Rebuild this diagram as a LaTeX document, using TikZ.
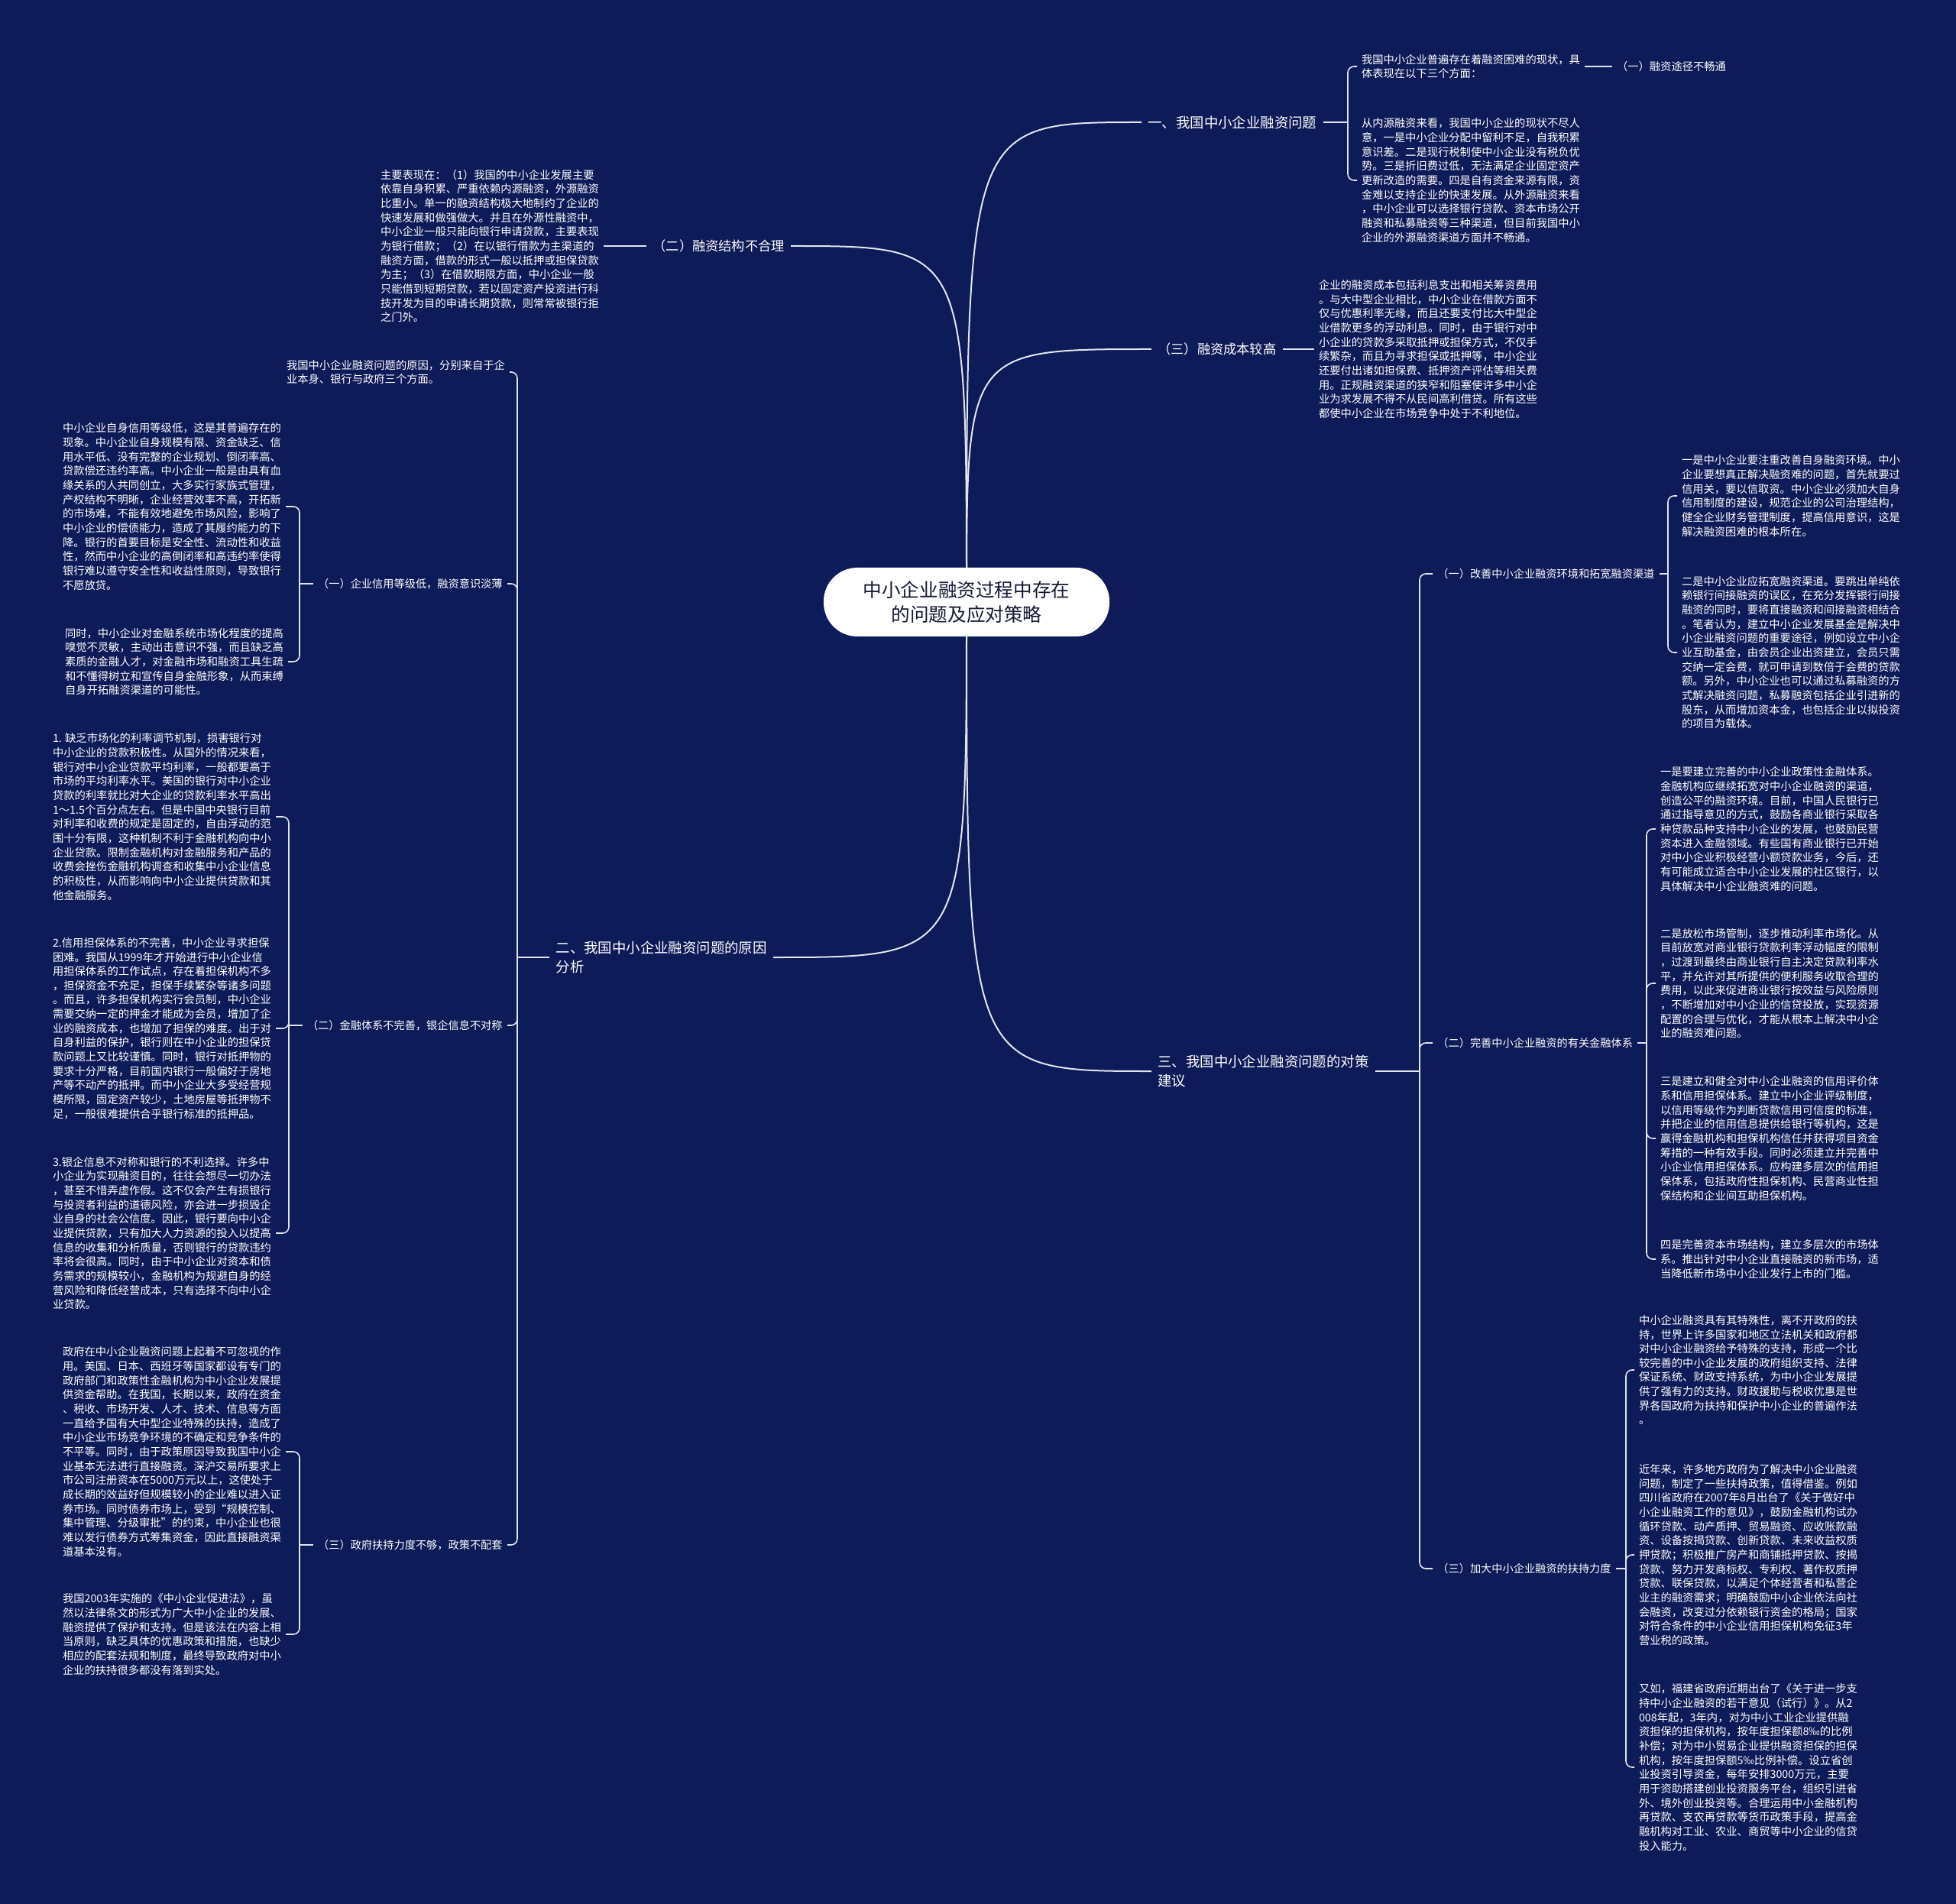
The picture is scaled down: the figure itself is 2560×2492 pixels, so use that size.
\documentclass[tikz,border=0pt]{standalone}
\usepackage{fontspec}
\setmainfont{Noto Sans CJK SC}
\definecolor{bgc}{RGB}{13,27,89}
\definecolor{linec}{RGB}{225,228,238}
\definecolor{ctext}{RGB}{20,24,50}
\tikzset{
  body/.style={text=white, font=\fontsize{7.15pt}{9.33pt}\selectfont, align=left, inner sep=0pt, outer xsep=3pt},
  lab/.style={text=white, font=\fontsize{9.2pt}{12.4pt}\selectfont, align=left, inner xsep=4pt, inner ysep=1pt},
  labs/.style={text=white, font=\fontsize{8.6pt}{11pt}\selectfont, align=left, inner xsep=4pt, inner ysep=1pt},
  sublab/.style={text=white, font=\fontsize{7.1pt}{9pt}\selectfont, inner xsep=3pt, inner ysep=1pt},
  conn/.style={draw=linec, line width=1pt},
  br/.style={draw=linec, line width=0.8pt, rounded corners=4pt},
  centerbox/.style={fill=white, rounded corners=22pt, minimum width=187pt, minimum height=45pt, text=ctext, align=center, font=\fontsize{12.3pt}{16pt}\selectfont}
}
\begin{document}
\begin{tikzpicture}[x=0.5pt,y=-0.5pt]
\fill[bgc] (0,0) rectangle (2560,2492);
\useasboundingbox (0,0) rectangle (2560,2492);

% ---------- main labels ----------
\node[lab, anchor=west] (N1) at (1494,160) {一、我国中小企业融资问题};
\node[labs, anchor=west] (N2) at (1507,457) {（三）融资成本较高};
\node[labs, anchor=east] (N3) at (1035,322) {（二）融资结构不合理};
\node[lab, anchor=east] (N4) at (1012,1253) {二、我国中小企业融资问题的原因\\分析};
\node[lab, anchor=west] (N5) at (1507,1402) {三、我国中小企业融资问题的对策\\建议};

% ---------- branch 一 ----------
\node[body, anchor=west] (A1) at (1776,87) {我国中小企业普遍存在着融资困难的现状，具\\体表现在以下三个方面：};
\node[body, anchor=west] (A1b) at (2110,87) {（一）融资途径不畅通};
\node[body, anchor=west] (A2) at (1776,236) {从内源融资来看，我国中小企业的现状不尽人\\意，一是中小企业分配中留利不足，自我积累\\意识差。二是现行税制使中小企业没有税负优\\势。三是折旧费过低，无法满足企业固定资产\\更新改造的需要。四是自有资金来源有限，资\\金难以支持企业的快速发展。从外源融资来看\\，中小企业可以选择银行贷款、资本市场公开\\融资和私募融资等三种渠道，但目前我国中小\\企业的外源融资渠道方面并不畅通。};
\coordinate (b1) at (1764,160);
\draw[conn] (N1.east) -- (b1);
\draw[br] (b1) |- (A1.west);
\draw[br] (b1) |- (A2.west);
\draw[conn] (A1.east) -- (A1b.west);

% ---------- branch （三）融资成本较高 ----------
\node[body, anchor=west] (B) at (1720,457) {企业的融资成本包括利息支出和相关筹资费用\\。与大中型企业相比，中小企业在借款方面不\\仅与优惠利率无缘，而且还要支付比大中型企\\业借款更多的浮动利息。同时，由于银行对中\\小企业的贷款多采取抵押或担保方式，不仅手\\续繁杂，而且为寻求担保或抵押等，中小企业\\还要付出诸如担保费、抵押资产评估等相关费\\用。正规融资渠道的狭窄和阻塞使许多中小企\\业为求发展不得不从民间高利借贷。所有这些\\都使中小企业在市场竞争中处于不利地位。};
\draw[conn] (N2.east) -- (B.west);

% ---------- branch （二）融资结构不合理 ----------
\node[body, anchor=west] (L0) at (492,322) {主要表现在：（1）我国的中小企业发展主要\\依靠自身积累、严重依赖内源融资，外源融资\\比重小。单一的融资结构极大地制约了企业的\\快速发展和做强做大。并且在外源性融资中，\\中小企业一般只能向银行申请贷款，主要表现\\为银行借款；（2）在以银行借款为主渠道的\\融资方面，借款的形式一般以抵押或担保贷款\\为主；（3）在借款期限方面，中小企业一般\\只能借到短期贷款，若以固定资产投资进行科\\技开发为目的申请长期贷款，则常常被银行拒\\之门外。};
\draw[conn] (N3.west) -- (L0.east);

% ---------- branch 二 ----------
\node[body, anchor=east] (T1) at (667,487) {我国中小企业融资问题的原因，分别来自于企\\业本身、银行与政府三个方面。};
\node[sublab, anchor=east] (T2) at (664,764) {（一）企业信用等级低，融资意识淡薄};
\node[sublab, anchor=east] (T3) at (664,1342) {（二）金融体系不完善，银企信息不对称};
\node[sublab, anchor=east] (T4) at (664,2022) {（三）政府扶持力度不够，政策不配套};
\coordinate (b4) at (677,1253);
\draw[conn] (N4.west) -- (b4);
\draw[br] (b4) |- (T1.east);
\draw[br] (b4) |- (T2.east);
\draw[br] (b4) |- (T3.east);
\draw[br] (b4) |- (T4.east);

\node[body, anchor=west] (U1) at (76,663) {中小企业自身信用等级低，这是其普遍存在的\\现象。中小企业自身规模有限、资金缺乏、信\\用水平低、没有完整的企业规划、倒闭率高、\\贷款偿还违约率高。中小企业一般是由具有血\\缘关系的人共同创立，大多实行家族式管理，\\产权结构不明晰，企业经营效率不高，开拓新\\的市场难，不能有效地避免市场风险，影响了\\中小企业的偿债能力，造成了其履约能力的下\\降。银行的首要目标是安全性、流动性和收益\\性，然而中小企业的高倒闭率和高违约率使得\\银行难以遵守安全性和收益性原则，导致银行\\不愿放贷。};
\node[body, anchor=west] (U2) at (79,866) {同时，中小企业对金融系统市场化程度的提高\\嗅觉不灵敏，主动出击意识不强，而且缺乏高\\素质的金融人才，对金融市场和融资工具生疏\\和不懂得树立和宣传自身金融形象，从而束缚\\自身开拓融资渠道的可能性。};
\coordinate (bT2) at (392,764);
\draw[conn] (T2.west) -- (bT2);
\draw[br] (bT2) |- (U1.east);
\draw[br] (bT2) |- (U2.east);

\node[body, anchor=west] (V1) at (63,1069) {1. 缺乏市场化的利率调节机制，损害银行对\\中小企业的贷款积极性。从国外的情况来看，\\银行对中小企业贷款平均利率，一般都要高于\\市场的平均利率水平。美国的银行对中小企业\\贷款的利率就比对大企业的贷款利率水平高出\\1～1.5个百分点左右。但是中国中央银行目前\\对利率和收费的规定是固定的，自由浮动的范\\围十分有限，这种机制不利于金融机构向中小\\企业贷款。限制金融机构对金融服务和产品的\\收费会挫伤金融机构调查和收集中小企业信息\\的积极性，从而影响向中小企业提供贷款和其\\他金融服务。};
\node[body, anchor=west] (V2) at (63,1346) {2.信用担保体系的不完善，中小企业寻求担保\\困难。我国从1999年才开始进行中小企业信\\用担保体系的工作试点，存在着担保机构不多\\，担保资金不充足，担保手续繁杂等诸多问题\\。而且，许多担保机构实行会员制，中小企业\\需要交纳一定的押金才能成为会员，增加了企\\业的融资成本，也增加了担保的难度。出于对\\自身利益的保护，银行则在中小企业的担保贷\\款问题上又比较谨慎。同时，银行对抵押物的\\要求十分严格，目前国内银行一般偏好于房地\\产等不动产的抵押。而中小企业大多受经营规\\模所限，固定资产较少，土地房屋等抵押物不\\足，一般很难提供合乎银行标准的抵押品。};
\node[body, anchor=west] (V3) at (63,1614) {3.银企信息不对称和银行的不利选择。许多中\\小企业为实现融资目的，往往会想尽一切办法\\，甚至不惜弄虚作假。这不仅会产生有损银行\\与投资者利益的道德风险，亦会进一步损毁企\\业自身的社会公信度。因此，银行要向中小企\\业提供贷款，只有加大人力资源的投入以提高\\信息的收集和分析质量，否则银行的贷款违约\\率将会很高。同时，由于中小企业对资本和债\\务需求的规模较小，金融机构为规避自身的经\\营风险和降低经营成本，只有选择不向中小企\\业贷款。};
\coordinate (bT3) at (378,1342);
\draw[conn] (T3.west) -- (bT3);
\draw[br] (bT3) |- (V1.east);
\draw[br] (bT3) |- (V2.east);
\draw[br] (bT3) |- (V3.east);

\node[body, anchor=west] (W1) at (76,1900) {政府在中小企业融资问题上起着不可忽视的作\\用。美国、日本、西班牙等国家都设有专门的\\政府部门和政策性金融机构为中小企业发展提\\供资金帮助。在我国，长期以来，政府在资金\\、税收、市场开发、人才、技术、信息等方面\\一直给予国有大中型企业特殊的扶持，造成了\\中小企业市场竞争环境的不确定和竞争条件的\\不平等。同时，由于政策原因导致我国中小企\\业基本无法进行直接融资。深沪交易所要求上\\市公司注册资本在5000万元以上，这使处于\\成长期的效益好但规模较小的企业难以进入证\\券市场。同时债券市场上，受到“规模控制、\\集中管理、分级审批”的约束，中小企业也很\\难以发行债券方式筹集资金，因此直接融资渠\\道基本没有。};
\node[body, anchor=west] (W2) at (76,2139) {我国2003年实施的《中小企业促进法》，虽\\然以法律条文的形式为广大中小企业的发展、\\融资提供了保护和支持。但是该法在内容上相\\当原则，缺乏具体的优惠政策和措施，也缺少\\相应的配套法规和制度，最终导致政府对中小\\企业的扶持很多都没有落到实处。};
\coordinate (bT4) at (392,2022);
\draw[conn] (T4.west) -- (bT4);
\draw[br] (bT4) |- (W1.east);
\draw[br] (bT4) |- (W2.east);

% ---------- branch 三 ----------
\node[sublab, anchor=west] (S1) at (1875,751) {（一）改善中小企业融资环境和拓宽融资渠道};
\node[sublab, anchor=west] (S2) at (1875,1365) {（二）完善中小企业融资的有关金融体系};
\node[sublab, anchor=west] (S3) at (1875,2053) {（三）加大中小企业融资的扶持力度};
\coordinate (b5) at (1858,1402);
\draw[conn] (N5.east) -- (b5);
\draw[br] (b5) |- (S1.west);
\draw[br] (b5) |- (S2.west);
\draw[br] (b5) |- (S3.west);

\node[body, anchor=west] (R1) at (2195,649) {一是中小企业要注重改善自身融资环境。中小\\企业要想真正解决融资难的问题，首先就要过\\信用关，要以信取资。中小企业必须加大自身\\信用制度的建设，规范企业的公司治理结构，\\健全企业财务管理制度，提高信用意识，这是\\解决融资困难的根本所在。};
\node[body, anchor=west] (R2) at (2195,854) {二是中小企业应拓宽融资渠道。要跳出单纯依\\赖银行间接融资的误区，在充分发挥银行间接\\融资的同时，要将直接融资和间接融资相结合\\。笔者认为，建立中小企业发展基金是解决中\\小企业融资问题的重要途径，例如设立中小企\\业互助基金，由会员企业出资建立，会员只需\\交纳一定会费，就可申请到数倍于会费的贷款\\额。另外，中小企业也可以通过私募融资的方\\式解决融资问题，私募融资包括企业引进新的\\股东，从而增加资本金，也包括企业以拟投资\\的项目为载体。};
\coordinate (bS1) at (2183,751);
\draw[conn] (S1.east) -- (bS1);
\draw[br] (bS1) |- (R1.west);
\draw[br] (bS1) |- (R2.west);

\node[body, anchor=west] (R3) at (2167,1085) {一是要建立完善的中小企业政策性金融体系。\\金融机构应继续拓宽对中小企业融资的渠道，\\创造公平的融资环境。目前，中国人民银行已\\通过指导意见的方式，鼓励各商业银行采取各\\种贷款品种支持中小企业的发展，也鼓励民营\\资本进入金融领域。有些国有商业银行已开始\\对中小企业积极经营小额贷款业务，今后，还\\有可能成立适合中小企业发展的社区银行，以\\具体解决中小企业融资难的问题。};
\node[body, anchor=west] (R4) at (2167,1287) {二是放松市场管制，逐步推动利率市场化。从\\目前放宽对商业银行贷款利率浮动幅度的限制\\，过渡到最终由商业银行自主决定贷款利率水\\平，并允许对其所提供的便利服务收取合理的\\费用，以此来促进商业银行按效益与风险原则\\，不断增加对中小企业的信贷投放，实现资源\\配置的合理与优化，才能从根本上解决中小企\\业的融资难问题。};
\node[body, anchor=west] (R5) at (2167,1490) {三是建立和健全对中小企业融资的信用评价体\\系和信用担保体系。建立中小企业评级制度，\\以信用等级作为判断贷款信用可信度的标准，\\并把企业的信用信息提供给银行等机构，这是\\赢得金融机构和担保机构信任并获得项目资金\\筹措的一种有效手段。同时必须建立并完善中\\小企业信用担保体系。应构建多层次的信用担\\保体系，包括政府性担保机构、民营商业性担\\保结构和企业间互助担保机构。};
\node[body, anchor=west] (R6) at (2167,1648) {四是完善资本市场结构，建立多层次的市场体\\系。推出针对中小企业直接融资的新市场，适\\当降低新市场中小企业发行上市的门槛。};
\coordinate (bS2) at (2155,1365);
\draw[conn] (S2.east) -- (bS2);
\draw[br] (bS2) |- (R3.west);
\draw[br] (bS2) |- (R4.west);
\draw[br] (bS2) |- (R5.west);
\draw[br] (bS2) |- (R6.west);

\node[body, anchor=west] (R7) at (2139,1793) {中小企业融资具有其特殊性，离不开政府的扶\\持，世界上许多国家和地区立法机关和政府都\\对中小企业融资给予特殊的支持，形成一个比\\较完善的中小企业发展的政府组织支持、法律\\保证系统、财政支持系统，为中小企业发展提\\供了强有力的支持。财政援助与税收优惠是世\\界各国政府为扶持和保护中小企业的普遍作法\\。};
\node[body, anchor=west] (R8) at (2139,2035) {近年来，许多地方政府为了解决中小企业融资\\问题，制定了一些扶持政策，值得借鉴。例如\\四川省政府在2007年8月出台了《关于做好中\\小企业融资工作的意见》，鼓励金融机构试办\\循环贷款、动产质押、贸易融资、应收账款融\\资、设备按揭贷款、创新贷款、未来收益权质\\押贷款；积极推广房产和商铺抵押贷款、按揭\\贷款、努力开发商标权、专利权、著作权质押\\贷款、联保贷款，以满足个体经营者和私营企\\业主的融资需求；明确鼓励中小企业依法向社\\会融资，改变过分依赖银行资金的格局；国家\\对符合条件的中小企业信用担保机构免征3年\\营业税的政策。};
\node[body, anchor=west] (R9) at (2139,2313) {又如，福建省政府近期出台了《关于进一步支\\持中小企业融资的若干意见（试行）》。从2\\008年起，3年内，对为中小工业企业提供融\\资担保的担保机构，按年度担保额8‰的比例\\补偿；对为中小贸易企业提供融资担保的担保\\机构，按年度担保额5‰比例补偿。设立省创\\业投资引导资金，每年安排3000万元，主要\\用于资助搭建创业投资服务平台，组织引进省\\外、境外创业投资等。合理运用中小金融机构\\再贷款、支农再贷款等货币政策手段，提高金\\融机构对工业、农业、商贸等中小企业的信贷\\投入能力。};
\coordinate (bS3) at (2128,2053);
\draw[conn] (S3.east) -- (bS3);
\draw[br] (bS3) |- (R7.west);
\draw[br] (bS3) |- (R8.west);
\draw[br] (bS3) |- (R9.west);

% ---------- center connectors ----------
\coordinate (c0) at (1265,788);
\draw[conn] (c0) .. controls (c0 |- N1.west) .. (N1.west);
\draw[conn] (c0) .. controls (c0 |- N2.west) .. (N2.west);
\draw[conn] (c0) .. controls (c0 |- N3.east) .. (N3.east);
\draw[conn] (c0) .. controls (c0 |- N4.east) .. (N4.east);
\draw[conn] (c0) .. controls (c0 |- N5.west) .. (N5.west);

\node[centerbox] (C) at (c0) {中小企业融资过程中存在\\的问题及应对策略};
\end{tikzpicture}
\end{document}
